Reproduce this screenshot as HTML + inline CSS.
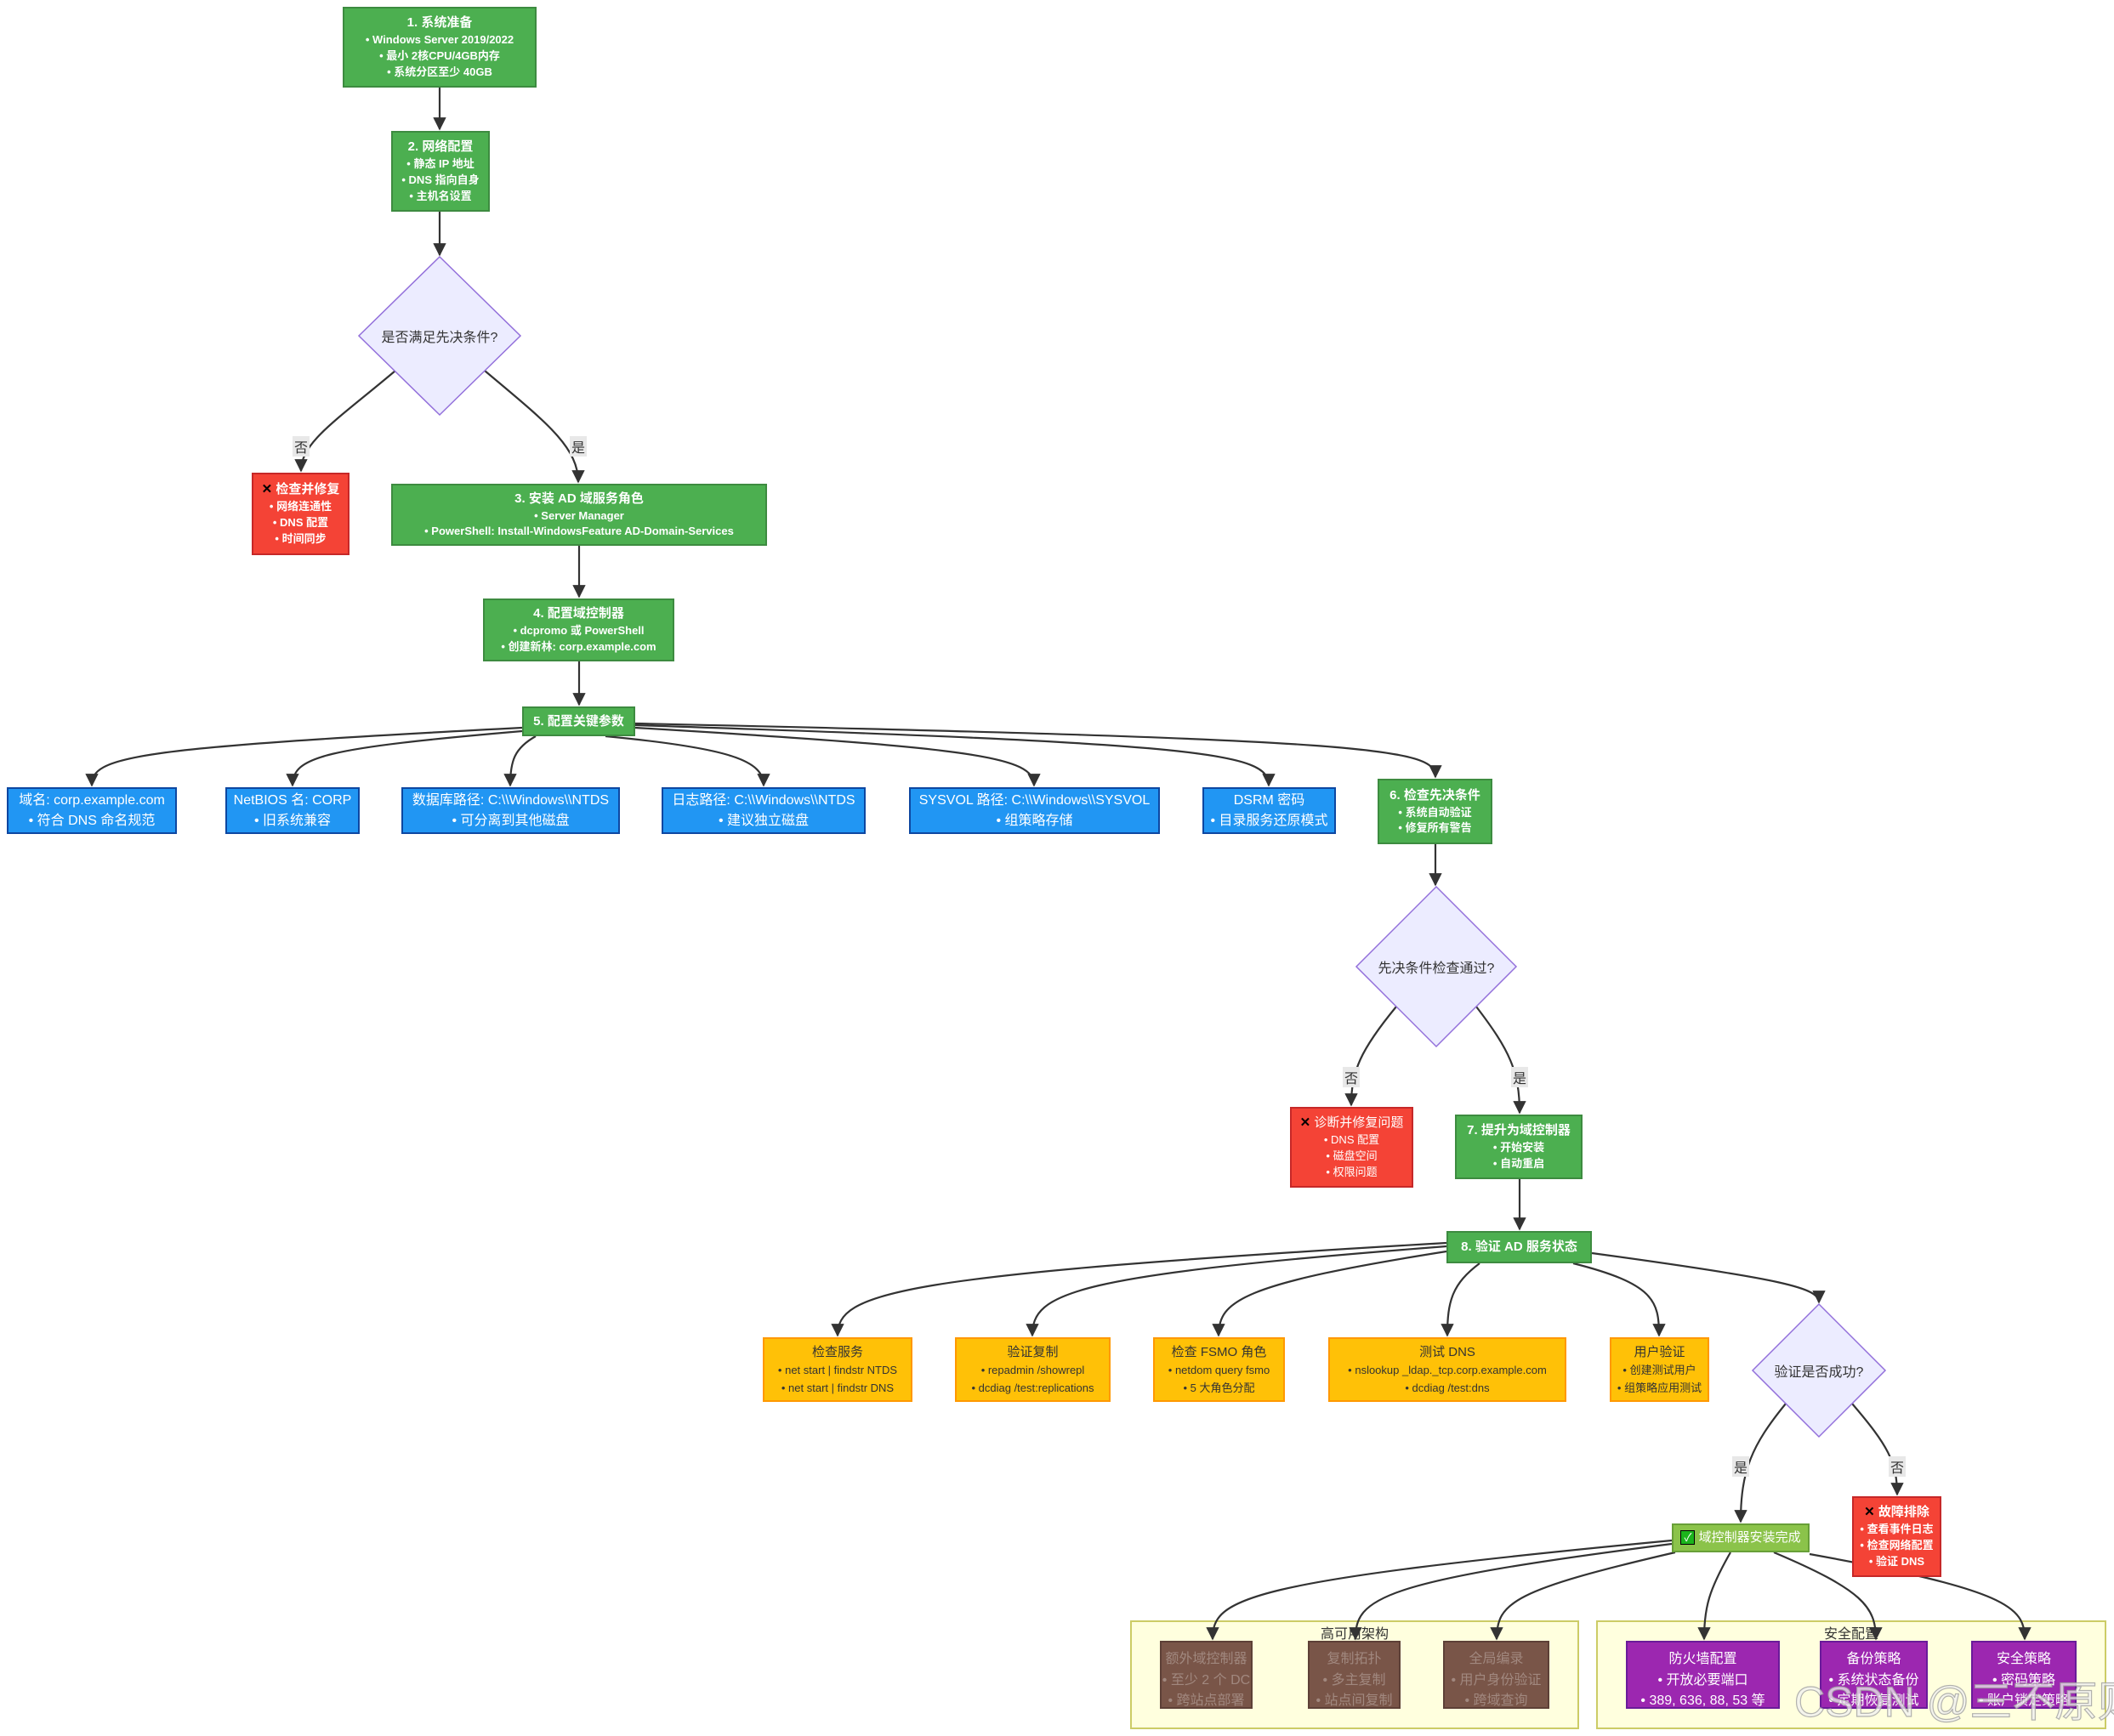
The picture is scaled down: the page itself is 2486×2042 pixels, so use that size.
<!DOCTYPE html>
<html><head><meta charset="utf-8">
<style>
*{margin:0;padding:0;box-sizing:border-box}
body{width:2486px;height:2042px;background:#fff;position:relative;overflow:hidden;font-family:"Liberation Sans","Noto Sans CJK SC",sans-serif}
.n{position:absolute;display:flex;flex-direction:column;align-items:center;justify-content:center;text-align:center;line-height:1.45;white-space:nowrap;border:2px solid}
.g{background:#4CAF50;border-color:#3d8b40;color:#fff;font-weight:bold}
.r{background:#F44336;border-color:#c62828;color:#fff}
.b{background:#2196F3;border-color:#0d47a1;color:#fff;font-size:16px;line-height:1.5}
.y{background:#FFC107;border-color:#FF9800;color:#333}
.br{background:#795548;border-color:#5d4037;color:#a1887f;font-size:16px;line-height:1.55;padding-top:14px}
.p{background:#9C27B0;border-color:#6a1b9a;color:#fff;font-size:16px;line-height:1.55;padding-top:14px}
.cl{position:absolute;background:#FFFFDE;border:2px solid #cccc66}
.cll{position:absolute;font-size:16px;color:#333;text-align:center}
.lbl{position:absolute;background:#e8e8e8;font-size:16px;color:#333;padding:0 2px;transform:translate(-50%,-50%)}
.dt{position:absolute;font-size:16px;color:#333;transform:translate(-50%,-50%);white-space:nowrap}
.s{font-size:13px}
.t{font-size:15px}
.x{color:#000;font-weight:bold}
</style></head><body>

<div class="cl" style="left:1329px;top:1906px;width:528px;height:128px"></div>
<div class="cll" style="left:1329px;top:1908px;width:528px">高可用架构</div>
<div class="cl" style="left:1877px;top:1906px;width:600px;height:128px"></div>
<div class="cll" style="left:1877px;top:1908px;width:600px">安全配置</div>

<svg style="position:absolute;left:0;top:0" width="2486" height="2042">
<defs><marker id="a" viewBox="0 0 10 10" refX="9" refY="5" markerWidth="7" markerHeight="7" orient="auto"><path d="M0,0L10,5L0,10z" fill="#333"/></marker></defs>
<g fill="none" stroke="#333" stroke-width="2.2" marker-end="url(#a)">
<path d="M517,103L517,152"/>
<path d="M517,249L517,300"/>
<path d="M465,436C395,495 354,520 354,554"/>
<path d="M570,436C640,495 680,525 680,567"/>
<path d="M681,642L681,702"/>
<path d="M681,778L681,829"/>
<path d="M614,856C150,880 108,890 108,924"/>
<path d="M614,860C380,880 344,890 344,924"/>
<path d="M630,866C605,880 600,895 600,924"/>
<path d="M712,866C860,880 898,895 898,924"/>
<path d="M747,856C1150,880 1216,890 1216,924"/>
<path d="M747,853C1420,875 1492,885 1492,924"/>
<path d="M747,851C1620,870 1688,880 1688,914"/>
<path d="M1688,993L1688,1041"/>
<path d="M1642,1184C1600,1235 1589,1260 1589,1300"/>
<path d="M1736,1184C1775,1235 1787,1260 1787,1309"/>
<path d="M1787,1387L1787,1446"/>
<path d="M1701,1462C1050,1500 985,1520 985,1571"/>
<path d="M1701,1466C1260,1500 1214,1520 1214,1571"/>
<path d="M1701,1472C1460,1510 1433,1530 1433,1571"/>
<path d="M1740,1486C1708,1510 1702,1530 1702,1571"/>
<path d="M1850,1486C1945,1510 1951,1530 1951,1571"/>
<path d="M1872,1474C2100,1505 2139,1515 2139,1532"/>
<path d="M2100,1651C2060,1700 2047,1730 2047,1790"/>
<path d="M2178,1651C2220,1700 2231,1720 2231,1758"/>
<path d="M1966,1812C1460,1860 1426,1880 1426,1928"/>
<path d="M1966,1816C1620,1860 1594,1880 1594,1928"/>
<path d="M1970,1826C1780,1870 1760,1885 1760,1928"/>
<path d="M2035,1826C2010,1870 2004,1890 2004,1928"/>
<path d="M2086,1826C2190,1870 2206,1890 2206,1928"/>
<path d="M2128,1828C2360,1870 2381,1890 2381,1928"/>
</g>
<polygon points="517,302 612,395 517,488 422,395" fill="#ECECFF" stroke="#9370DB" stroke-width="1.5"/>
<polygon points="1689,1043 1783,1137 1689,1231 1595,1137" fill="#ECECFF" stroke="#9370DB" stroke-width="1.5"/>
<polygon points="2139,1534 2217,1612 2139,1690 2061,1612" fill="#ECECFF" stroke="#9370DB" stroke-width="1.5"/>
</svg>

<div class="dt" style="left:517px;top:395px">是否满足先决条件?</div>
<div class="dt" style="left:1689px;top:1137px">先决条件检查通过?</div>
<div class="dt" style="left:2139px;top:1612px">验证是否成功?</div>

<div class="lbl" style="left:354px;top:525px">否</div>
<div class="lbl" style="left:680px;top:525px">是</div>
<div class="lbl" style="left:1589px;top:1267px">否</div>
<div class="lbl" style="left:1787px;top:1267px">是</div>
<div class="lbl" style="left:2047px;top:1725px">是</div>
<div class="lbl" style="left:2231px;top:1725px">否</div>

<div class="n g s" style="left:403px;top:8px;width:228px;height:95px"><div class="t">1. 系统准备</div><div>• Windows Server 2019/2022</div><div>• 最小 2核CPU/4GB内存</div><div>• 系统分区至少 40GB</div></div>
<div class="n g s" style="left:460px;top:154px;width:116px;height:95px"><div class="t">2. 网络配置</div><div>• 静态 IP 地址</div><div>• DNS 指向自身</div><div>• 主机名设置</div></div>
<div class="n r s" style="left:296px;top:556px;width:115px;height:97px;font-weight:bold"><div class="t"><span class="x">✕</span> 检查并修复</div><div>• 网络连通性</div><div>• DNS 配置</div><div>• 时间同步</div></div>
<div class="n g s" style="left:460px;top:569px;width:442px;height:73px"><div class="t">3. 安装 AD 域服务角色</div><div>• Server Manager</div><div>• PowerShell: Install-WindowsFeature AD-Domain-Services</div></div>
<div class="n g s" style="left:568px;top:704px;width:225px;height:74px"><div class="t">4. 配置域控制器</div><div>• dcpromo 或 PowerShell</div><div>• 创建新林: corp.example.com</div></div>
<div class="n g t" style="left:614px;top:831px;width:133px;height:35px">5. 配置关键参数</div>

<div class="n b" style="left:8px;top:926px;width:200px;height:55px"><div>域名: corp.example.com</div><div>• 符合 DNS 命名规范</div></div>
<div class="n b" style="left:265px;top:926px;width:158px;height:55px"><div>NetBIOS 名: CORP</div><div>• 旧系统兼容</div></div>
<div class="n b" style="left:472px;top:926px;width:257px;height:55px"><div>数据库路径: C:\\Windows\\NTDS</div><div>• 可分离到其他磁盘</div></div>
<div class="n b" style="left:778px;top:926px;width:240px;height:55px"><div>日志路径: C:\\Windows\\NTDS</div><div>• 建议独立磁盘</div></div>
<div class="n b" style="left:1069px;top:926px;width:295px;height:55px"><div>SYSVOL 路径: C:\\Windows\\SYSVOL</div><div>• 组策略存储</div></div>
<div class="n b" style="left:1414px;top:926px;width:157px;height:55px"><div>DSRM 密码</div><div>• 目录服务还原模式</div></div>
<div class="n g s" style="left:1620px;top:916px;width:135px;height:77px"><div class="t">6. 检查先决条件</div><div>• 系统自动验证</div><div>• 修复所有警告</div></div>

<div class="n r s" style="left:1517px;top:1302px;width:145px;height:95px"><div class="t"><span class="x">✕</span> 诊断并修复问题</div><div>• DNS 配置</div><div>• 磁盘空间</div><div>• 权限问题</div></div>
<div class="n g s" style="left:1711px;top:1311px;width:150px;height:76px"><div class="t">7. 提升为域控制器</div><div>• 开始安装</div><div>• 自动重启</div></div>
<div class="n g t" style="left:1701px;top:1448px;width:171px;height:38px">8. 验证 AD 服务状态</div>

<div class="n y s" style="left:897px;top:1573px;width:176px;height:76px;line-height:1.55"><div class="t">检查服务</div><div>• net start | findstr NTDS</div><div>• net start | findstr DNS</div></div>
<div class="n y s" style="left:1123px;top:1573px;width:183px;height:76px;line-height:1.55"><div class="t">验证复制</div><div>• repadmin /showrepl</div><div>• dcdiag /test:replications</div></div>
<div class="n y s" style="left:1356px;top:1573px;width:155px;height:76px;line-height:1.55"><div class="t">检查 FSMO 角色</div><div>• netdom query fsmo</div><div>• 5 大角色分配</div></div>
<div class="n y s" style="left:1562px;top:1573px;width:280px;height:76px;line-height:1.55"><div class="t">测试 DNS</div><div>• nslookup _ldap._tcp.corp.example.com</div><div>• dcdiag /test:dns</div></div>
<div class="n y s" style="left:1893px;top:1573px;width:117px;height:76px;line-height:1.55"><div class="t">用户验证</div><div>• 创建测试用户</div><div>• 组策略应用测试</div></div>

<div class="n" style="left:1966px;top:1792px;width:162px;height:34px;background:#8BC34A;border-color:#689f38;color:#fff;font-size:15px"><div><span style="display:inline-block;background:#1cb51c;color:#fff;border:1px solid #000;width:17px;height:17px;line-height:15px;font-size:13px">✓</span> 域控制器安装完成</div></div>
<div class="n r s" style="left:2178px;top:1760px;width:105px;height:95px;font-weight:bold"><div class="t"><span class="x">✕</span> 故障排除</div><div>• 查看事件日志</div><div>• 检查网络配置</div><div>• 验证 DNS</div></div>

<div class="n br" style="left:1364px;top:1930px;width:109px;height:80px"><div>额外域控制器</div><div>• 至少 2 个 DC</div><div>• 跨站点部署</div></div>
<div class="n br" style="left:1538px;top:1930px;width:109px;height:80px"><div>复制拓扑</div><div>• 多主复制</div><div>• 站点间复制</div></div>
<div class="n br" style="left:1697px;top:1930px;width:125px;height:80px"><div>全局编录</div><div>• 用户身份验证</div><div>• 跨域查询</div></div>

<div class="n p" style="left:1912px;top:1930px;width:181px;height:80px"><div>防火墙配置</div><div>• 开放必要端口</div><div>• 389, 636, 88, 53 等</div></div>
<div class="n p" style="left:2140px;top:1930px;width:127px;height:80px"><div>备份策略</div><div>• 系统状态备份</div><div>• 定期恢复测试</div></div>
<div class="n p" style="left:2318px;top:1930px;width:124px;height:80px"><div>安全策略</div><div>• 密码策略</div><div>• 账户锁定策略</div></div>

<div style="position:absolute;left:2110px;top:1962px;font-size:50px;color:rgba(240,240,240,0.75);-webkit-text-stroke:1.2px rgba(160,160,160,0.8);white-space:nowrap">CSDN @三不原则</div>
</body></html>
